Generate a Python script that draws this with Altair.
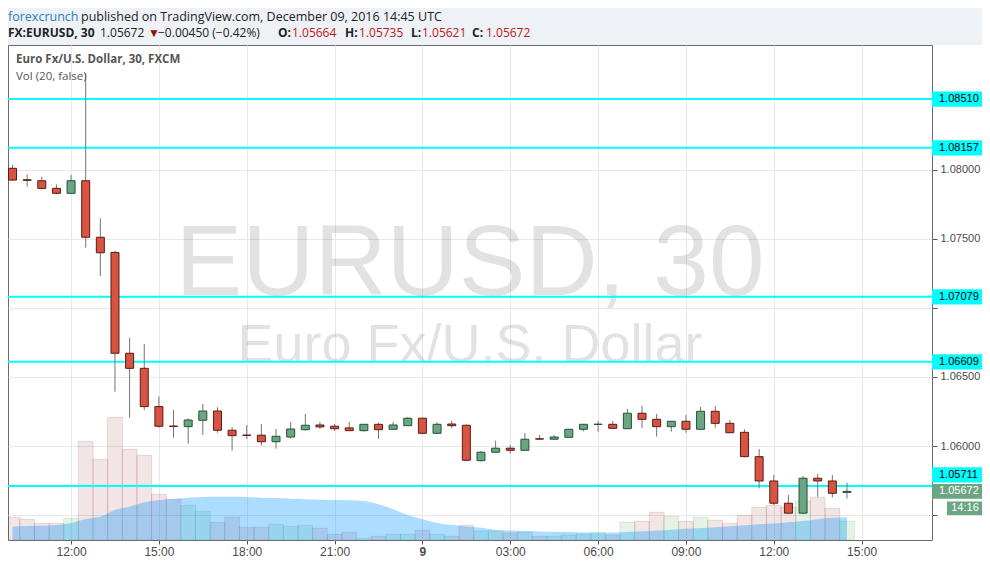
import altair as alt
import pandas as pd

# ---------------- data ----------------
# 30-minute candles, EUR/USD, 2016-12-08 10:00 UTC .. 2016-12-09 14:30 UTC
candle_times = pd.date_range("2016-12-08 10:00", periods=58, freq="30min")

opens = [1.08009, 1.07926, 1.07919, 1.07864, 1.07828, 1.07919, 1.07510, 1.07400, 1.06671, 1.06562,
         1.06285, 1.06144, 1.06140, 1.06186, 1.06253, 1.06114, 1.06079, 1.06078, 1.06031, 1.06065,
         1.06118, 1.06152, 1.06143, 1.06131, 1.06111, 1.06157, 1.06121, 1.06147, 1.06201, 1.06092,
         1.06159, 1.06150, 1.05894, 1.05955, 1.05984, 1.05969, 1.06052, 1.06049, 1.06063, 1.06121,
         1.06156, 1.06157, 1.06125, 1.06237, 1.06193, 1.06140, 1.06179, 1.06121, 1.06251, 1.06164,
         1.06099, 1.05923, 1.05747, 1.05586, 1.05514, 1.05767, 1.05747, 1.05664]
highs = [1.08033, 1.07965, 1.07948, 1.07893, 1.07960, 1.08698, 1.07647, 1.07413, 1.06784, 1.06738,
         1.06357, 1.06261, 1.06201, 1.06304, 1.06280, 1.06136, 1.06152, 1.06159, 1.06123, 1.06174,
         1.06232, 1.06174, 1.06159, 1.06174, 1.06159, 1.06169, 1.06174, 1.06210, 1.06207, 1.06172,
         1.06181, 1.06157, 1.05964, 1.06039, 1.06007, 1.06094, 1.06080, 1.06080, 1.06123, 1.06159,
         1.06181, 1.06181, 1.06268, 1.06290, 1.06232, 1.06181, 1.06225, 1.06282, 1.06290, 1.06188,
         1.06121, 1.05979, 1.05790, 1.05646, 1.05783, 1.05798, 1.05790, 1.05735]
lows = [1.07917, 1.07876, 1.07857, 1.07821, 1.07826, 1.07435, 1.07230, 1.06393, 1.06205, 1.06261,
        1.06133, 1.06060, 1.06017, 1.06080, 1.06096, 1.05966, 1.06051, 1.06003, 1.05981, 1.06053,
        1.06111, 1.06123, 1.06109, 1.06109, 1.06104, 1.06051, 1.06118, 1.06145, 1.06087, 1.06087,
        1.06128, 1.05892, 1.05887, 1.05950, 1.05945, 1.05966, 1.06044, 1.06048, 1.06062, 1.06107,
        1.06104, 1.06127, 1.06123, 1.06128, 1.06068, 1.06104, 1.06096, 1.06116, 1.06133, 1.06092,
        1.05918, 1.05694, 1.05574, 1.05509, 1.05507, 1.05634, 1.05629, 1.05621]
closes = [1.07924, 1.07922, 1.07864, 1.07828, 1.07919, 1.07510, 1.07398, 1.06671, 1.06562, 1.06285,
          1.06143, 1.06142, 1.06188, 1.06253, 1.06114, 1.06075, 1.06077, 1.06031, 1.06070, 1.06123,
          1.06150, 1.06138, 1.06125, 1.06111, 1.06157, 1.06118, 1.06152, 1.06201, 1.06092, 1.06157,
          1.06147, 1.05897, 1.05955, 1.05984, 1.05969, 1.06049, 1.06050, 1.06065, 1.06121, 1.06157,
          1.06158, 1.06128, 1.06237, 1.06193, 1.06140, 1.06179, 1.06121, 1.06251, 1.06164, 1.06096,
          1.05923, 1.05747, 1.05586, 1.05514, 1.05767, 1.05747, 1.05658, 1.05672]
volumes = [2270, 2070, 1670, 1670, 2170, 9870, 8070, 12270, 9070, 8470,
           4570, 4100, 3470, 2870, 1770, 2270, 1270, 1270, 1570, 1370,
           1470, 1170, 570, 770, 170, 370, 570, 570, 970, 570,
           370, 1470, 900, 900, 700, 800, 370, 370, 500, 600,
           770, 500, 1770, 1870, 2770, 2370, 1870, 2270, 1970, 1670,
           2470, 3270, 3470, 3300, 3900, 4270, 3170, 1900]
vol_ma20 = [1330, 1410, 1430, 1500, 1700, 2100, 2330, 3000, 3330, 3770,
            4000, 4100, 4230, 4300, 4330, 4330, 4300, 4230, 4200, 4130,
            4070, 4030, 4000, 3970, 3900, 3570, 3070, 2500, 2070, 1700,
            1500, 1350, 1220, 1030, 950, 900, 850, 820, 790, 750,
            730, 750, 800, 870, 950, 1030, 1120, 1200, 1280, 1380,
            1480, 1570, 1650, 1770, 1900, 2080, 2220, 2270]

levels = [1.08510, 1.08157, 1.07079, 1.06609, 1.05711]
price_ticks = [1.055, 1.060, 1.065, 1.070, 1.075, 1.080]
time_ticks = [12, 15, 18, 21, 24, 27, 30, 33, 36, 39]   # hours after 2016-12-08 00:00 UTC
countdown = "14:16"
watermark_main = "EURUSD, 30"
watermark_sub = "Euro Fx/U.S. Dollar"
legend_title = "Euro Fx/U.S. Dollar, 30, FXCM"
legend_vol = "Vol (20, false)"
header_user = "forexcrunch"
header_pub = "published on TradingView.com, December 09, 2016 14:45 UTC"
header_symbol = "FX:EURUSD, 30"
header_last = "1.05672"
header_change = "\u22120.00450 (\u22120.42%)"
header_ohlc = [("O:", "1.05664"), ("H:", "1.05735"), ("L:", "1.05621"), ("C:", "1.05672")]

# ---------------- table ----------------
base = pd.Timestamp("2016-12-08 00:00")
df = pd.DataFrame({
    "h": [(t - base) / pd.Timedelta(hours=1) for t in candle_times],
    "open": opens, "high": highs, "low": lows, "close": closes,
    "vol": volumes, "ma": vol_ma20,
})
levels_df = pd.DataFrame({"level": levels})
last = closes[-1]
last_df = pd.DataFrame({"price": [last], "label": [f"{last:.5f}"], "cd": [countdown]})
one = pd.DataFrame({"a": [0]})

# ---------------- styling ----------------
W, H = 924, 495
UP, DOWN = "#6ba583", "#d75442"
UP_B, DOWN_B = "#225437", "#5b1a13"
AX_FONT = "Liberation Sans"
HD_FONT = "Open Sans"

xscale = alt.Scale(domain=[10.017, 41.233], nice=False, zero=False)
yscale = alt.Scale(domain=[1.05320, 1.08901], nice=False, zero=False)
vscale = alt.Scale(domain=[0, 49500], nice=False, zero=True)

# price labels that sit under a level / last-price tag are covered in the reference
hidden = " || ".join(f"abs(datum.value - {lv}) < 0.0009" for lv in levels) + f" || abs(datum.value - {last}) < 0.0019"
xaxis = alt.Axis(
    values=time_ticks, title=None, grid=True, gridColor="#e8e8e8", domain=False,
    tickSize=4, tickColor="#555555", labelFont=AX_FONT, labelFontSize=12,
    labelColor="#4a4a4a", labelPadding=2,
    labelExpr="datum.value == 24 ? '9' : ((datum.value % 24) < 10 ? '0' : '') + (datum.value % 24) + ':00'",
    labelFontWeight={"condition": {"test": "datum.value == 24", "value": "bold"}, "value": "normal"},
)
yaxis = alt.Axis(
    orient="right", values=price_ticks, format=".5f", title=None, grid=True,
    gridColor="#e8e8e8", domain=False, tickSize=5, tickColor="#555555",
    labelFont=AX_FONT, labelFontSize=11, labelColor="#4a4a4a", labelPadding=3,
    labelExpr=f"({hidden}) ? '' : datum.label",
)
X = alt.X("h:Q", scale=xscale, axis=xaxis, title=None)


def txt(text, x, y, color="#222222", weight="normal", size=12, font=HD_FONT, align="left", baseline="middle", opacity=1.0):
    return alt.Chart(one).mark_text(
        text=text, align=align, baseline=baseline, color=color, fontWeight=weight,
        fontSize=size, font=font, opacity=opacity,
    ).encode(x=alt.value(x), y=alt.value(y))


# header band
header_bg = alt.Chart(one).mark_rect(color="#eef1f5").encode(
    x=alt.value(0), x2=alt.value(W + 50), y=alt.value(-37), y2=alt.value(0))

header = [
    txt(header_user, 0, -28, color="#2a80c0", size=12.5),
    txt(header_pub, 73, -28, size=12.5),
    txt(header_symbol, 0, -12, weight="bold"),
    txt(header_last, 92, -12),
    txt("\u25BC", 140, -12, color="#9b0d0d", size=12, font=AX_FONT),
    txt(header_change, 150, -12),
]
xpos = [270, 337, 403, 464]
for (lab, val), xp in zip(header_ohlc, xpos):
    header.append(txt(lab, xp, -12, weight="bold"))
    header.append(txt(val, xp + (11 if lab == "L:" else 14), -12, color="#c01818"))

watermark = [
    txt(watermark_main, 462, 250, color="#000000", size=100, font=AX_FONT, align="center", baseline="alphabetic", opacity=0.11),
    txt(watermark_sub, 462, 317, color="#000000", size=54, font=AX_FONT, align="center", baseline="alphabetic", opacity=0.11),
]
legend = [
    txt(legend_title, 8, 15, color="#555555", weight="bold", size=11.5),
    txt(legend_vol, 8, 32, color="#555555", size=11.5),
]

# volume pane
is_up = "datum.close >= datum.open"
vol_bars = alt.Chart(df).mark_bar(size=14.8, clip=True, fillOpacity=0.1, strokeOpacity=0.12, strokeWidth=1).encode(
    x=X,
    y=alt.Y("vol:Q", scale=vscale, axis=None),
    fill=alt.condition(is_up, alt.value("#008000"), alt.value("#800000")),
    stroke=alt.condition(is_up, alt.value("#008000"), alt.value("#800000")),
)
vol_ma = alt.Chart(df).mark_area(color="#0496ff", opacity=0.33, interpolate="monotone", clip=True).encode(
    x=X, y=alt.Y("ma:Q", scale=vscale, axis=None))
vol_layer = alt.layer(vol_bars, vol_ma)

# price pane
Y = lambda f: alt.Y(f, scale=yscale, axis=yaxis, title=None)
level_rules = alt.Chart(levels_df).mark_rule(color="#00ffff", strokeWidth=2).encode(y=Y("level:Q"))
wicks = alt.Chart(df).mark_rule(color="#737375", strokeWidth=1, clip=True).encode(
    x=X, y=Y("low:Q"), y2="high:Q")
bodies = alt.Chart(df).mark_bar(size=8, strokeWidth=1, clip=True).encode(
    x=X, y=Y("open:Q"), y2="close:Q",
    fill=alt.condition(is_up, alt.value(UP), alt.value(DOWN)),
    stroke=alt.condition(is_up, alt.value(UP_B), alt.value(DOWN_B)),
)

lvl = alt.Chart(levels_df).transform_calculate(
    ly=f"abs(datum.level - {last}) < 0.0006 ? datum.level + 0.0008 : datum.level"
).transform_calculate(lo="datum.ly - 0.00055", hi="datum.ly + 0.00055")
level_boxes = lvl.mark_rect(color="#00ffff").encode(
    x=alt.value(W), x2=alt.value(W + 51), y=Y("lo:Q"), y2="hi:Q")
level_text = lvl.mark_text(align="left", baseline="middle", font=AX_FONT, fontSize=11, color="#000000").encode(
    x=alt.value(W + 7), y=Y("ly:Q"), text=alt.Text("level:Q", format=".5f"))

lp = alt.Chart(last_df).transform_calculate(
    lo="datum.price - 0.00053", hi="datum.price + 0.00053",
    cy="datum.price - 0.00123", clo="datum.price - 0.00173", chi="datum.price - 0.00073")
last_box = lp.mark_rect(color="#6ba583").encode(x=alt.value(W), x2=alt.value(W + 51), y=Y("lo:Q"), y2="hi:Q")
last_text = lp.mark_text(align="left", baseline="middle", font=AX_FONT, fontSize=11, color="#ffffff").encode(
    x=alt.value(W + 7), y=Y("price:Q"), text="label:N")
cd_box = lp.mark_rect(color="#6ba583").encode(x=alt.value(W + 15), x2=alt.value(W + 51), y=Y("clo:Q"), y2="chi:Q")
cd_text = lp.mark_text(align="center", baseline="middle", font=AX_FONT, fontSize=11, color="#ffffff").encode(
    x=alt.value(W + 33), y=Y("cy:Q"), text="cd:N")

price_layer = alt.layer(level_rules, wicks, bodies, level_boxes, level_text, last_box, last_text, cd_box, cd_text)

chart = alt.layer(
    header_bg, *watermark, vol_layer, price_layer, *legend, *header
).resolve_scale(y="independent").properties(
    width=W, height=H,
    padding={"left": 0, "top": 37, "right": 50, "bottom": 19},
    autosize=alt.AutoSizeParams(type="none"),
    background="white",
).configure_view(stroke="#6a6a6a", strokeWidth=1)

chart.save("out.html", embed_options={"renderer": "svg", "actions": False})
